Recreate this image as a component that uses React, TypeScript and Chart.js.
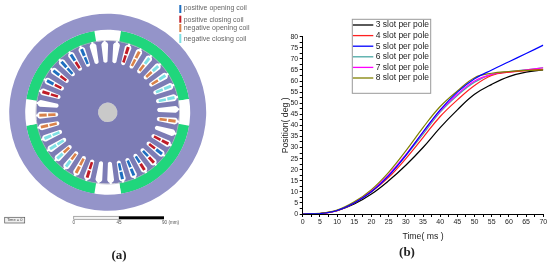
import React, { useEffect, useRef } from "react";
import { Chart, registerables } from "chart.js";

Chart.register(...registerables);

const SANS = "'Liberation Sans', Arial, sans-serif";

// Position curves
const timesMs = [0, 5, 10, 15, 20, 25, 30, 35, 40, 45, 50, 55, 60, 65, 70];
const slot3 = [0, 0.2, 1.5, 4.5, 9, 15, 22, 30, 39, 47, 54, 58.5, 62, 64, 65];
const slot4 = [0, 0.2, 1.5, 5, 10, 16.5, 25, 34.5, 44, 51.5, 58, 62.5, 64, 64.7, 65.3];
const slot5 = [0, 0.2, 1.6, 5, 10, 17.2, 26.5, 37, 47, 55, 61, 65, 68.7, 72.4, 76.2];
const slot6 = [0, 0.2, 1.6, 5, 10.2, 17.5, 26.3, 36, 46, 53.5, 59.5, 63, 64.3, 65, 66];
const slot7 = [0, 0.2, 1.6, 5.2, 10.5, 17.8, 26.8, 36.8, 46.5, 54, 60, 63, 64, 65, 66];
const slot8 = [0, 0.3, 1.8, 5.5, 11, 18.8, 28.5, 39, 48.5, 55.5, 61.5, 63.5, 64.3, 64.8, 65];
const seriesLabels = ["3 slot per pole", "4 slot per pole", "5 slot per pole", "6 slot per pole", "7 slot per pole", "8 slot per pole"];
const seriesColors = ["#000000", "#ff2020", "#0000ff", "#4aa8a4", "#ff00ff", "#808000"];
const seriesValues = [slot3, slot4, slot5, slot6, slot7, slot8];
const seriesOrder = [3, 2, 0, 3, 2, 1];

// Machine cross-section
const ringYoke = [1];
const ringMagnets = [18.6, 71.4, 18.6, 71.4, 18.6, 71.4, 18.6, 71.4];
const ringRotor = [1];
const ringShaft = [1];
const slotAngles = Array.from({ length: 36 }, (_, i) => 7.5 + i * 10);
const coilOuter = "_ r o c c c c c _ o _ r b r r b b _ _ r o c c c c o o _ r b b b b b _".split(" ");
const coilInner = "_ r o o o o c c _ o _ r r b b b b _ _ r o o o c c o o _ r r r b r b _".split(" ");
const coilColors: Record<string, string> = { b: "#1f6fc0", r: "#c01c28", o: "#d9824a", c: "#7fe0e4" };
const coilLegend = [
  { label: "positive opening coil", key: "b" },
  { label: "positive closing coil", key: "r" },
  { label: "negative opening coil", key: "o" },
  { label: "negative closing coil", key: "c" },
];
const scaleBarLabels = ["0", "45", "90 (mm)"];

const machinePlugin = {
  id: "machine",
  afterDatasetsDraw(chart: any) {
    const ctx = chart.ctx;
    const arc = chart.getDatasetMeta(0).data[0];
    const cx = arc.x;
    const cy = arc.y;
    const R = arc.outerRadius;
    ctx.save();
    ctx.strokeStyle = "#a6a6bc";
    ctx.lineWidth = 0.7;
    ctx.beginPath();
    ctx.arc(cx, cy, 0.728 * R, 0, Math.PI * 2);
    ctx.stroke();
    ctx.restore();
    slotAngles.forEach((deg, i) => {
      ctx.save();
      ctx.translate(cx, cy);
      ctx.rotate((deg * Math.PI) / 180);
      ctx.fillStyle = "#ffffff";
      ctx.beginPath();
      ctx.moveTo(-2, -0.515 * R);
      ctx.quadraticCurveTo(0, -0.49 * R, 2, -0.515 * R);
      ctx.lineTo(3.4, -0.69 * R);
      ctx.quadraticCurveTo(2.8, -0.712 * R, 1, -0.717 * R);
      ctx.lineTo(1, -0.73 * R);
      ctx.lineTo(-1, -0.73 * R);
      ctx.lineTo(-1, -0.717 * R);
      ctx.quadraticCurveTo(-2.8, -0.712 * R, -3.4, -0.69 * R);
      ctx.closePath();
      ctx.fill();
      const inner = coilColors[coilInner[i]];
      const outer = coilColors[coilOuter[i]];
      if (inner) {
        ctx.fillStyle = inner;
        ctx.fillRect(-1.3, -0.605 * R, 2.6, 0.075 * R);
      }
      if (outer) {
        ctx.fillStyle = outer;
        ctx.fillRect(-1.5, -0.695 * R, 3, 0.075 * R);
      }
      ctx.restore();
    });

    // Coil legend
    ctx.save();
    ctx.font = `7px ${SANS}`;
    ctx.textBaseline = "middle";
    const legendTextY = [8, 19.7, 27.7, 38.7];
    const legendBarY = [5, 15.7, 24, 34];
    const legendBarH = [8, 7, 8, 9];
    coilLegend.forEach((e, i) => {
      ctx.fillStyle = coilColors[e.key];
      ctx.fillRect(179.3, legendBarY[i], 2, legendBarH[i]);
      ctx.fillStyle = "#666666";
      ctx.fillText(e.label, 183.7, legendTextY[i]);
    });

    // Time box
    ctx.fillStyle = "#eeeeee";
    ctx.fillRect(4.7, 217.3, 20, 5.7);
    ctx.strokeStyle = "#555555";
    ctx.lineWidth = 0.7;
    ctx.strokeRect(4.7, 217.3, 20, 5.7);
    ctx.fillStyle = "#444444";
    ctx.font = `4px ${SANS}`;
    ctx.textAlign = "center";
    ctx.fillText("Time = 0", 14.7, 220.3);

    // Scale bar
    ctx.fillStyle = "#f4f4f4";
    ctx.fillRect(73.7, 216.3, 45.3, 3);
    ctx.strokeStyle = "#888888";
    ctx.strokeRect(73.7, 216.3, 45.3, 3);
    ctx.fillStyle = "#000000";
    ctx.fillRect(119, 216.3, 45, 3);
    ctx.fillStyle = "#555555";
    ctx.font = `4.6px ${SANS}`;
    ctx.textAlign = "center";
    ctx.fillText(scaleBarLabels[0], 73.7, 222.3);
    ctx.fillText(scaleBarLabels[1], 119, 222.3);
    ctx.textAlign = "left";
    ctx.fillText(scaleBarLabels[2], 162, 222.3);

    // Caption
    ctx.fillStyle = "#222222";
    ctx.font = "bold 13px 'Liberation Serif', serif";
    ctx.textAlign = "center";
    ctx.fillText("(a)", 119, 255.5);
    ctx.restore();
  },
};

const legendBoxPlugin = {
  id: "legendBox",
  afterDraw(chart: any) {
    const ctx = chart.ctx;
    const ox = 275;
    ctx.save();
    ctx.strokeStyle = "#999999";
    ctx.lineWidth = 1;
    ctx.fillStyle = "#ffffff";
    ctx.fillRect(352.3 - ox, 19.3, 78.4, 74);
    ctx.strokeRect(352.3 - ox, 19.3, 78.4, 74);
    ctx.font = `8.5px ${SANS}`;
    ctx.textBaseline = "middle";
    chart.data.datasets.forEach((ds: any, i: number) => {
      const y = 25 + i * 10.6;
      ctx.strokeStyle = ds.borderColor;
      ctx.lineWidth = 1.3;
      ctx.beginPath();
      ctx.moveTo(352.9 - ox, y);
      ctx.lineTo(373.3 - ox, y);
      ctx.stroke();
      ctx.fillStyle = "#222222";
      ctx.fillText(ds.label, 375.7 - ox, y);
    });
    ctx.fillStyle = "#222222";
    ctx.font = "bold 13px 'Liberation Serif', serif";
    ctx.textAlign = "center";
    ctx.textBaseline = "alphabetic";
    ctx.fillText("(b)", 407 - ox, 255.5);
    ctx.restore();
  },
};

export default function App() {
  const leftRef = useRef<HTMLCanvasElement>(null);
  const rightRef = useRef<HTMLCanvasElement>(null);

  useEffect(() => {
    const left = new Chart(leftRef.current as HTMLCanvasElement, {
      type: "doughnut",
      data: {
        labels: ringMagnets.map((_, i) => String(i)),
        datasets: [
          { data: ringYoke, backgroundColor: "#9494c9", borderWidth: 0, weight: 16 } as any,
          {
            data: ringMagnets,
            backgroundColor: ringMagnets.map((_, i) => (i % 2 === 0 ? "#ffffff" : "#20d67c")),
            borderWidth: 0,
            weight: 11,
          } as any,
          { data: ringRotor, backgroundColor: "#7c7cb5", borderWidth: 0, weight: 61.8 } as any,
          { data: ringShaft, backgroundColor: "#c9c9c9", borderWidth: 0, weight: 9.7 } as any,
        ],
      },
      options: {
        responsive: false,
        animation: false,
        cutout: 0,
        rotation: -9.3,
        layout: { padding: { left: 9.2, right: 63.8, top: 13.8, bottom: 55.2 } },
        plugins: { legend: { display: false }, tooltip: { enabled: false } },
      } as any,
      plugins: [machinePlugin],
    });

    const right = new Chart(rightRef.current as HTMLCanvasElement, {
      type: "line",
      data: {
        datasets: seriesValues.map((vals, i) => ({
          label: seriesLabels[i],
          data: vals.map((v, k) => ({ x: timesMs[k], y: v })),
          borderColor: seriesColors[i],
          borderWidth: 1.2,
          pointRadius: 0,
          tension: 0.4,
          order: seriesOrder[i],
        })),
      },
      options: {
        responsive: false,
        animation: false,
        layout: { padding: { left: 0, right: 6.7, top: 36.7, bottom: 24 } },
        plugins: { legend: { display: false }, tooltip: { enabled: false } },
        scales: {
          x: {
            type: "linear",
            min: 0,
            max: 70,
            afterFit: (s: any) => {
              s.height = 28;
            },
            grid: { drawOnChartArea: false, tickLength: 3, tickColor: "#000", color: "#000" },
            border: { color: "#000" },
            title: { display: true, text: "Time( ms )", color: "#222", font: { family: SANS, size: 8.7 }, padding: 0 },
            ticks: {
              stepSize: 2.5,
              autoSkip: false,
              maxRotation: 0,
              padding: 1,
              color: "#222",
              font: { family: SANS, size: 7 },
              callback: (v: any) => (Number(v) % 5 === 0 ? String(v) : ""),
            },
          },
          y: {
            type: "linear",
            min: 0,
            max: 80,
            afterFit: (s: any) => {
              s.width = 27.7;
            },
            grid: { drawOnChartArea: false, tickLength: 3, tickColor: "#000", color: "#000" },
            border: { color: "#000" },
            title: {
              display: true,
              text: "Position( deg )",
              color: "#222",
              font: { family: SANS, size: 8.7 },
              padding: { top: 5.5, bottom: 0 },
            },
            ticks: {
              stepSize: 2.5,
              autoSkip: false,
              padding: 1.5,
              color: "#222",
              font: { family: SANS, size: 7 },
              callback: (v: any) => (Number(v) % 5 === 0 ? String(v) : ""),
            },
          },
        },
      } as any,
      plugins: [legendBoxPlugin],
    });

    return () => {
      left.destroy();
      right.destroy();
    };
  }, []);

  const style = (x: number): React.CSSProperties => ({
    position: "absolute",
    left: x,
    top: 0,
    display: "block",
    filter: "blur(0.35px)",
  });

  return (
    <div style={{ position: "fixed", left: 0, top: 0, width: 550, height: 266, overflow: "hidden", background: "#fff" }}>
      <canvas ref={leftRef} width={270} height={266} style={style(0)} />
      <canvas ref={rightRef} width={275} height={266} style={style(275)} />
    </div>
  );
}
